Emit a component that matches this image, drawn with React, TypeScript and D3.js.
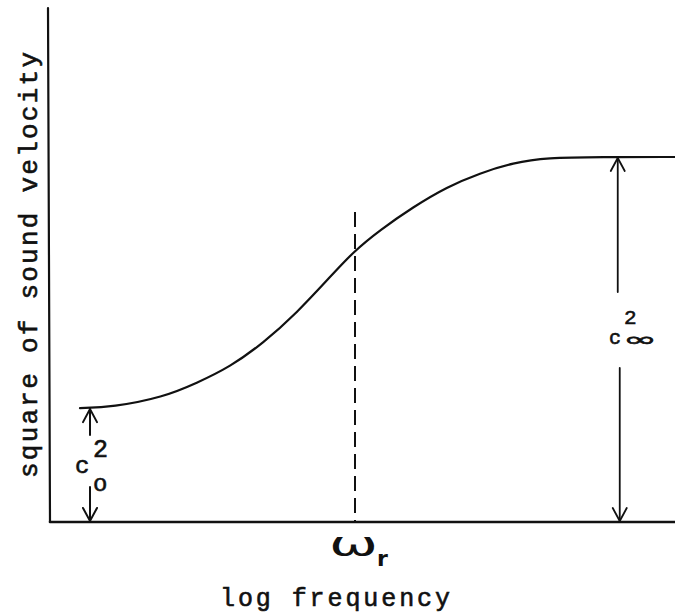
import * as d3 from 'd3';

// log frequency (arbitrary units) and square of sound velocity (normalised to c_inf^2)
const logFreq = [0.48, 1.0, 1.81, 2.35, 2.88, 3.41, 3.95, 4.48, 4.85, 5.28, 5.81, 6.35, 6.88, 7.41, 7.95, 8.8, 10];
const velocitySq = [0.312, 0.315, 0.342, 0.381, 0.425, 0.49, 0.573, 0.671, 0.74, 0.8, 0.863, 0.918, 0.956, 0.984, 0.998, 1.0, 1.0];

const omegaR = 4.88;
const c0Sq = 0.312;
const cInfSq = 1.0;
const c0ArrowX = 0.64;
const cInfArrowX = 9.1;

const W = 675;
const H = 616;

export default function App() {
  const x = d3.scaleLinear().domain([0, 10]).range([50, 675]);
  const y = d3.scaleLinear().domain([0, 1]).range([522, 157]);

  const pts = logFreq.map((f, i) => [f, velocitySq[i]] as [number, number]);
  const line = d3
    .line<[number, number]>()
    .x((d) => x(d[0]))
    .y((d) => y(d[1]))
    .curve(d3.curveBasis);

  const head = (px: number, py: number, dir: number) =>
    `M${px - 7},${py + dir * 13}L${px},${py}L${px + 7},${py + dir * 13}`;

  const mono = 'Liberation Mono';
  const x0 = x(0);
  const yBase = y(0);

  // c0 arrow
  const ax = x(c0ArrowX);
  const aTop = y(c0Sq);
  // c_inf arrow
  const bx = x(cInfArrowX);
  const bTop = y(cInfSq);

  return (
    <svg width={W} height={H} style={{ position: 'absolute', left: 0, top: 0, background: '#fff' }}>
      <g stroke="#111" fill="none" strokeLinecap="round">
        {/* axes */}
        <line x1={x0 - 2} y1={8} x2={x0} y2={yBase} strokeWidth={2.2} />
        <line x1={x0} y1={yBase} x2={W} y2={yBase} strokeWidth={2.6} />

        {/* curve */}
        <path d={line(pts) ?? ''} strokeWidth={2.2} />

        {/* omega_r dashed */}
        <line x1={x(omegaR)} y1={212} x2={x(omegaR)} y2={yBase} strokeWidth={2} strokeDasharray="15 7" strokeLinecap="butt" />

        {/* c0 arrow */}
        <line x1={ax} y1={aTop} x2={ax} y2={435} strokeWidth={2} />
        <path d={head(ax, aTop + 1, 1)} strokeWidth={2} />
        <line x1={ax} y1={487} x2={ax} y2={yBase} strokeWidth={2} />
        <path d={head(ax, yBase - 1, -1)} strokeWidth={2} />

        {/* c_inf arrow */}
        <line x1={bx - 1} y1={bTop} x2={bx - 1} y2={292} strokeWidth={1.8} />
        <path d={head(bx - 1, bTop + 1, 1)} strokeWidth={1.8} />
        <line x1={bx + 1} y1={368} x2={bx + 1} y2={yBase} strokeWidth={1.8} />
        <path d={head(bx + 1, yBase - 1, -1)} strokeWidth={1.8} />
      </g>

      <g fill="#111" stroke="#111" strokeWidth={0.6}>
        {/* c0^2 label */}
        <text x={75} y={473} fontFamily={mono} fontSize={24}>c</text>
        <text x={93} y={457} fontFamily={mono} fontSize={25}>2</text>
        <text x={93} y={491} fontFamily={mono} fontSize={24}>o</text>

        {/* c_inf^2 label */}
        <text x={609} y={344} fontFamily={mono} fontSize={20}>c</text>
        <text x={623} y={346} fontFamily="DejaVu Sans" fontSize={19} textLength={34} lengthAdjust="spacingAndGlyphs">∞</text>
        <text x={624} y={324} fontFamily={mono} fontSize={21}>2</text>

        {/* omega_r */}
        <text x={329} y={556} fontFamily="DejaVu Sans" fontSize={34} textLength={49} lengthAdjust="spacingAndGlyphs" strokeWidth={0}>ω</text>
        <text x={377} y={566} fontFamily="DejaVu Sans" fontSize={22} fontWeight="bold" strokeWidth={0}>r</text>

        {/* axis titles */}
        <text x={220} y={606} fontFamily={mono} fontSize={25} textLength={230} lengthAdjust="spacing">log frequency</text>
        <text
          transform="translate(37,478) rotate(-90)"
          fontFamily={mono}
          fontSize={26}
          textLength={426}
          lengthAdjust="spacing"
        >
          square of sound velocity
        </text>
      </g>
    </svg>
  );
}
